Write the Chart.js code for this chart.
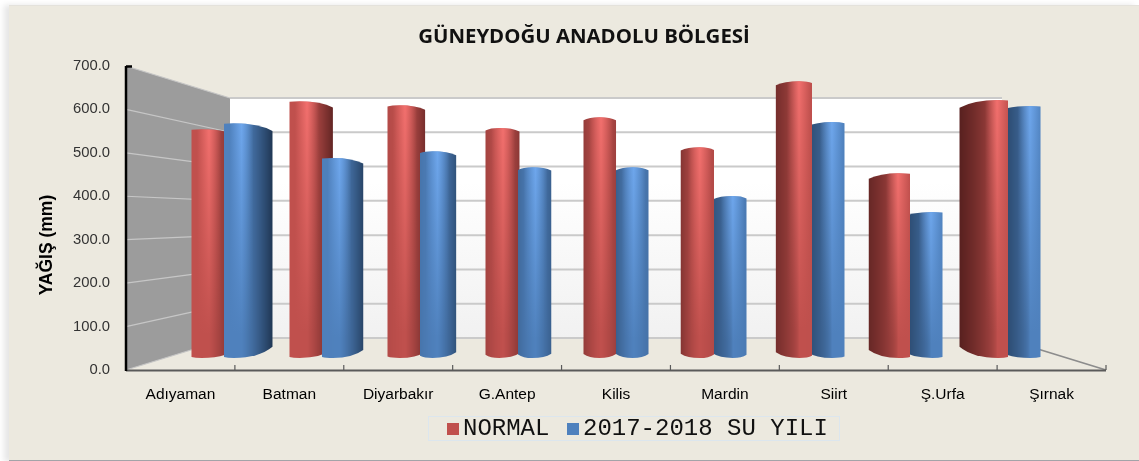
<!DOCTYPE html>
<html>
<head>
<meta charset="utf-8">
<title>Güneydoğu Anadolu Bölgesi</title>
<script src="https://cdn.jsdelivr.net/npm/chart.js@4"></script>
<style>
    html, body { margin: 0; padding: 0; background: #fff; overflow: hidden; }
    #panel { position: absolute; left: 9px; top: 5px; width: 1130px; height: 454px; background: #ece9df;
             border-top: 1px solid #e4e2dc; border-bottom: 2px solid #a3a3a8; box-shadow: -5px 0 6px #e6e6e6; }
    #wrap { position: absolute; left: 0; top: 0; width: 1139px; height: 461px; }
    #legend { position: absolute; left: 428px; top: 416px; width: 412px; height: 25px; box-sizing: border-box;
              border: 1px solid #dce6ee; font: 24px/25px "Liberation Mono", monospace; color: #111; white-space: nowrap; }
    #legend i { position: absolute; top: 6px; width: 12px; height: 12px; }
    #legend span { position: absolute; top: -1px; }
</style>
</head>
<body>
<div id="panel"></div>
<div id="wrap"><canvas id="chart" width="1139" height="461"></canvas></div>
<div id="legend"></div>
<script>
var categories = ['Adıyaman', 'Batman', 'Diyarbakır', 'G.Antep', 'Kilis', 'Mardin', 'Siirt', 'Ş.Urfa', 'Şırnak'];
var normalValues = [572, 642, 632, 575, 602, 527, 692, 462, 645];
var waterYearValues = [587, 500, 517, 477, 477, 405, 590, 365, 630];
var seriesNames = ['NORMAL', '2017-2018 SU YILI'];
var seriesColors = ['#c0504d', '#4f81bd'];
var darkColors = ['#3f1514', '#16283f'];
var shineColors = ['255,120,118', '118,176,248'];
var titleText = 'GÜNEYDOĞU ANADOLU BÖLGESİ';
var yTitleText = 'YAĞIŞ (mm)';
var WALL_DX = 104;   // depth of the fake 3D box, in px

function hexRgb(hex) {
    return [1, 3, 5].map(function (i) { return parseInt(hex.substr(i, 2), 16); });
}

function cylinderPath(ctx, x0, x1, top, bottom, s, ext) {
    var peak = x0 + (x1 - x0) * Math.max(0.2, Math.min(0.8, 0.5 + 0.32 * s));
    var farTop = 3 + 0.3 * ext, nearTop = Math.max(0.5, 3 - 0.35 * ext);
    var farBot = 4 + 0.45 * ext, nearBot = Math.max(1, 4 - 0.5 * ext);
    var lt = s < 0 ? nearTop : farTop, rt = s < 0 ? farTop : nearTop;
    var lb = s < 0 ? nearBot : farBot, rb = s < 0 ? farBot : nearBot;
    ctx.beginPath();
    ctx.moveTo(x0, top + lt);
    ctx.quadraticCurveTo(x0 + (peak - x0) * 0.35, top, peak, top);
    ctx.quadraticCurveTo(x1 - (x1 - peak) * 0.35, top, x1, top + rt);
    ctx.lineTo(x1, bottom - rb);
    ctx.quadraticCurveTo(x1 - (x1 - peak) * 0.35, bottom, peak, bottom);
    ctx.quadraticCurveTo(x0 + (peak - x0) * 0.35, bottom, x0, bottom - lb);
    ctx.closePath();
}

function drawCylinder(ctx, bar, seriesIndex, midX) {
    var w = bar.width;
    var s = (bar.x - midX) / 376;
    var ext = 16 * s * s;
    var front0 = bar.x - w / 2, front1 = bar.x + w / 2;
    var x0 = s > 0 ? front0 - ext : front0;
    var x1 = s < 0 ? front1 + ext : front1;
    var hiX = front0 + 17 + 4 * Math.max(0, s);
    var darkL = s < 0 ? Math.max(0, 0.35 + 0.45 * s) : 0.35 + 0.45 * s;
    var darkR = s > 0 ? Math.max(0, 0.2 - 0.4 * s) : 0.25 + 0.6 * -s;
    var base = hexRgb(seriesColors[seriesIndex]);
    var dark = hexRgb(darkColors[seriesIndex]);
    var shine = ctx.createLinearGradient(0, bar.y, 0, bar.y + (bar.base - bar.y) * 0.9);
    shine.addColorStop(0, 'rgba(' + shineColors[seriesIndex] + ',0.8)');
    shine.addColorStop(1, 'rgba(' + shineColors[seriesIndex] + ',0)');

    ctx.save();
    cylinderPath(ctx, x0, x1, bar.y, bar.base, s, ext);
    ctx.clip();
    for (var x = Math.floor(x0); x < x1; x++) {
        var d, t;
        if (x < hiX) {
            t = (hiX - x) / (hiX - x0);
            d = darkL * Math.pow(t, s > 0.3 ? 0.6 : 1.3);
        } else {
            t = (x - hiX) / (x1 - hiX);
            d = darkR * Math.pow(t, 1.2);
        }
        ctx.globalAlpha = 1;
        ctx.fillStyle = 'rgb(' + base.map(function (c, k) { return Math.round(c + (dark[k] - c) * d); }).join(',') + ')';
        ctx.fillRect(x, bar.y - 1, 1, bar.base - bar.y + 2);
        ctx.globalAlpha = Math.max(0, 1 - Math.abs(x - hiX) / 12);
        ctx.fillStyle = shine;
        ctx.fillRect(x, bar.y - 1, 1, bar.base - bar.y + 2);
    }
    ctx.restore();
}

var box3d = {
    id: 'box3d',
    beforeDatasetsDraw: function (chart) {
        var ctx = chart.ctx, area = chart.chartArea;
        var y = chart.scales.y, back = chart.scales.yWall, x = chart.scales.x;
        var left = area.left, right = area.right;
        var backL = left + WALL_DX, backR = right - WALL_DX;
        var ticks = y.ticks.map(function (t) { return t.value; });
        var b0 = back.getPixelForValue(0), b7 = back.getPixelForValue(700);

        ctx.save();
        // side wall
        ctx.fillStyle = '#9c9c9c';
        ctx.beginPath();
        ctx.moveTo(left, y.getPixelForValue(700));
        ctx.lineTo(backL, b7);
        ctx.lineTo(backL, b0);
        ctx.lineTo(left, y.getPixelForValue(0));
        ctx.closePath();
        ctx.fill();
        // back wall
        var g = ctx.createLinearGradient(0, b7, 0, b0);
        g.addColorStop(0, '#ffffff');
        g.addColorStop(0.35, '#ffffff');
        g.addColorStop(1, '#f1f1f1');
        ctx.fillStyle = g;
        ctx.fillRect(backL, b7, backR - backL, b0 - b7);
        // grid on both walls
        ticks.forEach(function (v) {
            ctx.strokeStyle = '#c6c6c6';
            ctx.lineWidth = 1.2;
            ctx.beginPath();
            ctx.moveTo(left, y.getPixelForValue(v));
            ctx.lineTo(backL, back.getPixelForValue(v));
            ctx.stroke();
            ctx.strokeStyle = '#cacaca';
            ctx.lineWidth = 2;
            ctx.beginPath();
            ctx.moveTo(backL, back.getPixelForValue(v));
            ctx.lineTo(backR, back.getPixelForValue(v));
            ctx.stroke();
        });
        // floor edge
        ctx.strokeStyle = '#8c8c8c';
        ctx.lineWidth = 1.5;
        ctx.beginPath();
        ctx.moveTo(backR, b0);
        ctx.lineTo(right, y.getPixelForValue(0));
        ctx.stroke();

        // cylinders: blue sits in front on the left half, red on the right half
        var redBars = chart.getDatasetMeta(0).data, blueBars = chart.getDatasetMeta(1).data;
        var midX = (left + right) / 2;
        categories.forEach(function (c, i) {
            var order = redBars[i].x + redBars[i].width / 2 > midX + 60 ? [1, 0] : [0, 1];
            order.forEach(function (k) {
                drawCylinder(ctx, (k === 0 ? redBars : blueBars)[i], k, midX);
            });
        });

        // axis lines and tick marks
        var yZero = y.getPixelForValue(0);
        ctx.strokeStyle = '#5a5a5a';
        ctx.lineWidth = 2;
        ctx.beginPath();
        ctx.moveTo(left, yZero + 0.5);
        ctx.lineTo(right, yZero + 0.5);
        ctx.stroke();
        ctx.lineWidth = 1.2;
        categories.forEach(function (c, i) {
            var tx = i < categories.length - 1 ? (x.getPixelForValue(i) + x.getPixelForValue(i + 1)) / 2 : right;
            ctx.beginPath();
            ctx.moveTo(tx, yZero - 5);
            ctx.lineTo(tx, yZero);
            ctx.stroke();
        });
        ctx.strokeStyle = '#000';
        ctx.lineWidth = 2.5;
        ctx.beginPath();
        ctx.moveTo(left, y.getPixelForValue(700));
        ctx.lineTo(left, yZero + 1);
        ctx.moveTo(left, y.getPixelForValue(700) + 0.5);
        ctx.lineTo(left + 6, y.getPixelForValue(700) + 0.5);
        ctx.stroke();

        // axis title sits lower than the axis middle in the original
        ctx.translate(47, 245);
        ctx.rotate(-Math.PI / 2);
        ctx.fillStyle = '#000';
        ctx.font = 'bold 17.5px "Liberation Sans", Arial, sans-serif';
        ctx.textAlign = 'center';
        ctx.textBaseline = 'middle';
        ctx.fillText(yTitleText, 0, 0);
        ctx.restore();
        return false;
    }
};

new Chart(document.getElementById('chart'), {
    type: 'bar',
    data: {
        labels: categories,
        datasets: [
            { label: seriesNames[0], data: normalValues.map(function (v, i) { return { x: i, y: v }; }), backgroundColor: seriesColors[0], xAxisID: 'xBar', yAxisID: 'yBar', barThickness: 32.5 },
            { label: seriesNames[1], data: waterYearValues.map(function (v, i) { return { x: i, y: v }; }), backgroundColor: seriesColors[1], xAxisID: 'xBar', yAxisID: 'yBar', barThickness: 32.5 }
        ]
    },
    plugins: [box3d],
    options: {
        responsive: false,
        animation: false,
        layout: { padding: { left: 62, right: 33, top: 0, bottom: 0 } },
        plugins: {
            legend: { display: false },
            tooltip: { enabled: false },
            title: {
                display: true,
                text: titleText,
                color: '#111',
                font: { family: "'Open Sans', sans-serif", size: 20.4, weight: 'bold', lineHeight: 1.2 },
                padding: { top: 25, bottom: 16.5 }
            }
        },
        scales: {
            x: {
                type: 'category',
                offset: true,
                grid: { display: false },
                border: { display: false },
                ticks: { color: '#000', padding: 7, autoSkip: false, maxRotation: 0, font: { family: "'Liberation Sans', Arial, sans-serif", size: 15.5 } },
                afterFit: function (s) { s.height = 91; }
            },
            y: {
                min: 0,
                max: 700,
                grid: { display: false },
                border: { display: false },
                ticks: {
                    stepSize: 100,
                    color: '#333',
                    padding: 8,
                    font: { family: "'Liberation Sans', Arial, sans-serif", size: 14.8 },
                    callback: function (v) { return v.toFixed(1); }
                },
                afterFit: function (s) { s.width = 64; }
            },
            // the bars stand on a plane nearer than the walls, so they get their own hidden scales
            xBar: { type: 'linear', display: false, position: 'bottom', offset: false, min: -1, max: 9, grid: { display: false } },
            yBar: { type: 'linear', display: false, position: 'left', min: -30, max: 730, grid: { display: false } },
            yWall: { type: 'linear', display: false, position: 'left', min: -93.33, max: 793.33, grid: { display: false } }
        }
    }
});

var legendEl = document.getElementById('legend');
var legendPos = [[18, 34], [138, 154]];
seriesNames.forEach(function (name, i) {
    var box = document.createElement('i');
    box.style.left = legendPos[i][0] + 'px';
    box.style.background = seriesColors[i];
    var label = document.createElement('span');
    label.style.left = legendPos[i][1] + 'px';
    label.textContent = name;
    legendEl.appendChild(box);
    legendEl.appendChild(label);
});
</script>
</body>
</html>
